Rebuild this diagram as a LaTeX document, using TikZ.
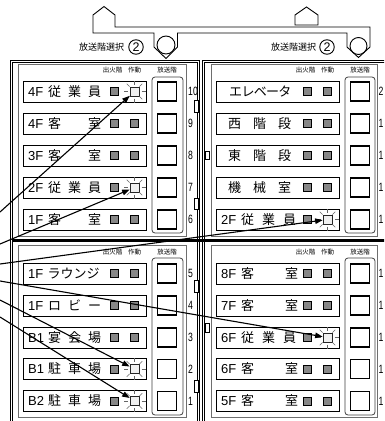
\documentclass[tikz,border=0pt]{standalone}
\usepackage{fontspec}
\setmainfont{Liberation Sans}
\newfontfamily\jp{Noto Sans CJK JP}
\usetikzlibrary{arrows.meta}
\definecolor{lampgray}{RGB}{135,135,135}
\definecolor{panelgray}{RGB}{110,110,110}
\newcommand\slot[2]{\makebox[#1pt][l]{#2}}
\newcommand\J[1]{{\jp #1}}
\tikzset{
 rowbox/.style={draw=black,line width=0.9pt,fill=white,minimum width=123.5pt,minimum height=21pt,inner sep=0pt,outer sep=0pt},
 lbl/.style={anchor=west,inner sep=0pt,font=\fontsize{13}{13}\selectfont},
 lamp/.style={draw=black,line width=0.7pt,fill=lampgray,minimum size=8pt,inner sep=0pt},
 litlamp/.style={draw=black!85,line width=0.7pt,fill=black!6,minimum size=9pt,inner sep=0pt},
 ray/.style={draw=black!60,line width=0.6pt},
 bigsq/.style={draw=black,line width=1.6pt,fill=white,minimum size=19pt,inner sep=0pt},
 colbox/.style={draw=black!75,line width=0.8pt,rounded corners=3pt},
 numlbl/.style={anchor=west,inner sep=0pt,font=\fontsize{12}{12}\selectfont},
 hdr/.style={inner sep=0pt,font=\jp\fontsize{6.5}{6.5}\selectfont},
 frame/.style={draw=black,line width=0.9pt},
 inpanel/.style={draw=panelgray,line width=0.8pt},
 tabbox/.style={draw=black,line width=0.7pt,fill=white},
 arr/.style={line width=1.1pt,-{Triangle[length=7.5pt,width=5.5pt]}},
 hood/.style={draw=black,line width=0.9pt,fill=white},
 sel/.style={inner sep=0pt,font=\jp\fontsize{9}{9}\selectfont},
 circ/.style={draw=black,line width=0.9pt,circle,minimum size=14.5pt,inner sep=0pt,font=\fontsize{12.5}{12.5}\selectfont},
}
% #1 name, #2 box left x, #3 y centre, #4 label, #5 lit, #6 number, #7 number x
\newcommand\prow[7]{%
  \node[rowbox,anchor=west] (#1) at (#2,#3) {};
  \node[lbl] (#1t) at (#2+5,#3) {#4};
  \node[lamp] (#1f) at (#2+91,#3) {};
  \ifnum#5=1
    \node[litlamp] (#1a) at (#2+111.5,#3) {};
    \foreach \ang in {0,45,...,315}{\draw[ray] (#1a.center) ++(\ang:7) -- ++(\ang:4);}
  \else
    \node[lamp] (#1a) at (#2+111.5,#3) {};
  \fi
  \node[bigsq] (#1s) at (#2+144,#3) {};
  \node[numlbl] (#1n) at (#7,#3) {\scalebox{0.72}[1]{#6}};
}
\newcommand\heads[2]{%
  \node[hdr] at (#1+89.5,#2) {出火階};
  \node[hdr] at (#1+111.5,#2) {作動};
  \node[hdr] at (#1+144,#2) {放送階};
}
\begin{document}
\begin{tikzpicture}[x=1pt,y=-1pt]
\useasboundingbox (0,0) rectangle (384,421);
\clip (0,0) rectangle (384,421);
\fill[white] (0,0) rectangle (384,421);

% top selector hood
\draw[hood] (93,33) -- (93,15) -- (104,6.5) -- (115,15) -- (115,27) -- (370,27) -- (370,47)
  -- (358.5,57.5) -- (347,47) -- (347,33) -- (177.5,33) -- (177.5,47) -- (166,58.5)
  -- (154,47) -- (154,33) -- cycle;
\draw[line width=0.9pt] (166,45) circle[radius=9];
\draw[line width=0.9pt] (358.5,46) circle[radius=8.5];
\draw[hood] (295,25) -- (295,15) -- (306.5,7) -- (318,15) -- (318,25) -- cycle;
\node[sel] (selL) at (101.5,47) {放送階選択};
\node[circ] (c2L) at (136,47) {2};
\node[sel] (selR) at (293.5,47) {放送階選択};
\node[circ] (c2R) at (327,47) {2};

% outer frames
\draw[frame] (10,60) rectangle (199.5,430);
\draw[frame] (12.5,62.5) rectangle (197,430);
\draw[frame] (202,60) rectangle (400,430);
\draw[frame] (204.5,62.5) rectangle (400,430);
\draw[line width=2.4pt] (12.5,240.5) -- (400,240.5);

% inner panels
\draw[inpanel] (18,64) rectangle (186,236);
\draw[inpanel] (18,245) rectangle (186,417.5);
\draw[inpanel] (211.5,64) rectangle (377,236);
\draw[inpanel] (211.5,245) rectangle (377,417.5);

% broadcast columns
\draw[colbox] (152,77) rectangle (183,233);
\draw[colbox] (152,258) rectangle (183,415);
\draw[colbox] (345,77) rectangle (375,233);
\draw[colbox] (345,258) rectangle (375,415);

% tabs
\draw[tabbox] (194.5,100) rectangle (198.5,112);
\draw[tabbox] (205,151) rectangle (209,159.5);
\draw[tabbox] (194.5,198) rectangle (198.5,209);
\draw[tabbox] (194.5,280) rectangle (198.5,292);
\draw[tabbox] (205,323) rectangle (209,332);
\draw[tabbox] (194.5,380) rectangle (198.5,392);

% headers
\heads{23}{70}
\heads{23}{252}
\heads{216}{70}
\heads{216}{252}

% upper left
\prow{ulA}{23}{91.5}{\slot{20}{4F}\slot{20}{\J{従}}\slot{20}{\J{業}}\J{員}}{1}{10}{188}
\prow{ulB}{23}{123.5}{\slot{20}{4F}\slot{40}{\J{客}}\J{室}}{0}{9}{188}
\prow{ulC}{23}{155.5}{\slot{20}{3F}\slot{40}{\J{客}}\J{室}}{0}{8}{188}
\prow{ulD}{23}{187.5}{\slot{20}{2F}\slot{20}{\J{従}}\slot{20}{\J{業}}\J{員}}{1}{7}{188}
\prow{ulE}{23}{219.5}{\slot{20}{1F}\slot{40}{\J{客}}\J{室}}{0}{6}{188}
% lower left
\prow{llA}{23}{273.5}{\slot{19.5}{1F}\slot{13}{\J{ラ}}\slot{13}{\J{ウ}}\slot{13}{\J{ン}}\J{ジ}}{0}{5}{188}
\prow{llB}{23}{305.5}{\slot{20}{1F}\slot{20}{\J{ロ}}\slot{20}{\J{ビ}}\J{ー}}{0}{4}{188}
\prow{llC}{23}{337.5}{\slot{20}{B1}\slot{20}{\J{宴}}\slot{20}{\J{会}}\J{場}}{0}{3}{188}
\prow{llD}{23}{369}{\slot{20}{B1}\slot{20}{\J{駐}}\slot{20}{\J{車}}\J{場}}{1}{2}{188}
\prow{llE}{23}{401}{\slot{20}{B2}\slot{20}{\J{駐}}\slot{20}{\J{車}}\J{場}}{1}{1}{188}
% upper right
\prow{urA}{216}{91.5}{\hspace*{8pt}\slot{12.3}{\J{エ}}\slot{12.3}{\J{レ}}\slot{12.3}{\J{ベ}}\slot{12.3}{\J{ー}}\J{タ}}{0}{2}{378.5}
\prow{urB}{216}{123.5}{\hspace*{7pt}\slot{25}{\J{西}}\slot{25}{\J{階}}\J{段}}{0}{1}{378.5}
\prow{urC}{216}{155.5}{\hspace*{7pt}\slot{25}{\J{東}}\slot{25}{\J{階}}\J{段}}{0}{1}{378.5}
\prow{urD}{216}{187.5}{\hspace*{7pt}\slot{25}{\J{機}}\slot{25}{\J{械}}\J{室}}{0}{1}{378.5}
\prow{urE}{216}{219.5}{\slot{20}{2F}\slot{21}{\J{従}}\slot{21}{\J{業}}\J{員}}{1}{1}{378.5}
% lower right
\prow{lrA}{216}{273.5}{\slot{20}{8F}\slot{44}{\J{客}}\J{室}}{0}{1}{378.5}
\prow{lrB}{216}{305.5}{\slot{20}{7F}\slot{44}{\J{客}}\J{室}}{0}{1}{378.5}
\prow{lrC}{216}{337.5}{\slot{20}{6F}\slot{21}{\J{従}}\slot{21}{\J{業}}\J{員}}{1}{1}{378.5}
\prow{lrD}{216}{369}{\slot{20}{6F}\slot{44}{\J{客}}\J{室}}{0}{1}{378.5}
\prow{lrE}{216}{401}{\slot{20}{5F}\slot{44}{\J{客}}\J{室}}{0}{1}{378.5}

% arrows
\coordinate (s1) at (0,212);
\coordinate (s2) at (0,244);
\coordinate (s3) at (0,264);
\coordinate (s4) at (0,281);
\coordinate (s5) at (0,300);
\coordinate (s6) at (0,317);
\draw[arr] (s1) -- (ulAa);
\draw[arr] (s2) -- (ulDa);
\draw[arr] (s3) -- (urEa);
\draw[arr] (s4) -- (lrCa);
\draw[arr] (s5) -- (llDa);
\draw[arr] (s6) -- (llEa);
\end{tikzpicture}
\end{document}
